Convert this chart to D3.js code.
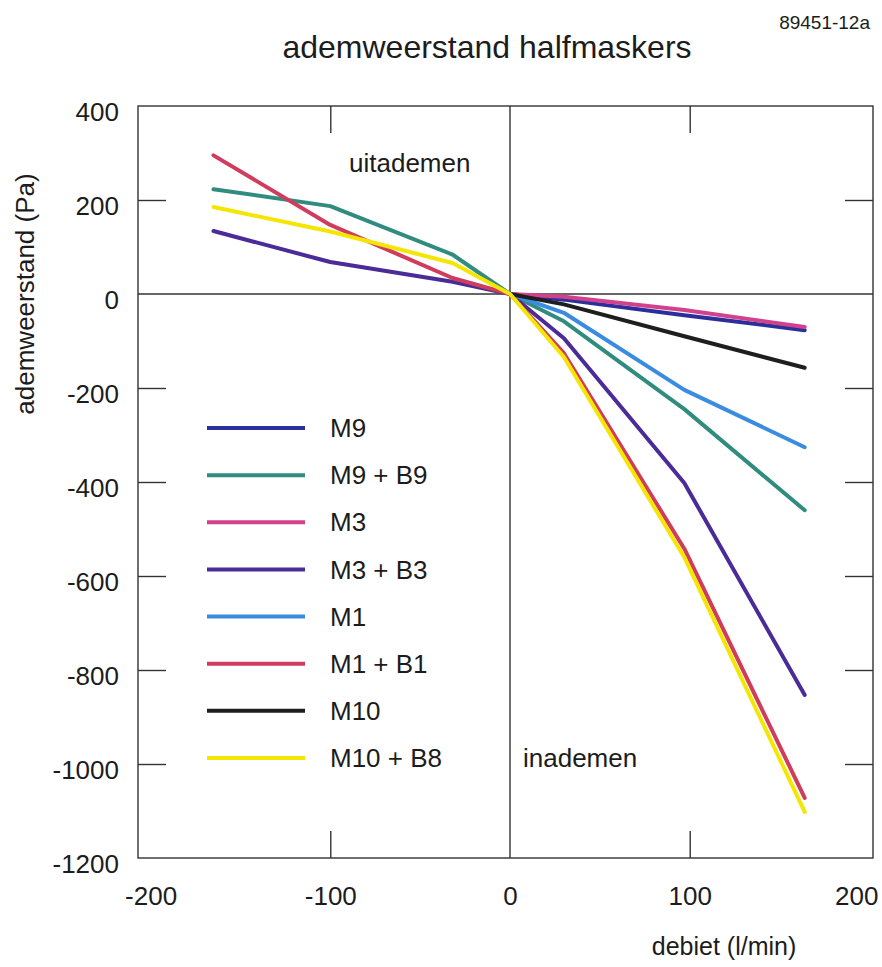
<!DOCTYPE html>
<html>
<head>
<meta charset="utf-8">
<script src="https://cdn.jsdelivr.net/npm/d3@7"></script>
<style>
  body { margin: 0; background: #ffffff; }
  text { font-family: "Liberation Sans", Arial, Helvetica, sans-serif; fill: #1c1c1c; }
</style>
</head>
<body>
<svg id="chart" width="882" height="967"></svg>
<script>
// Flow rates (l/min): negative = exhaling, positive = inhaling
const flows = [-165, -100, -32, 0, 30, 97, 164];

// Breathing resistance (Pa) per mask / mask + filter; null = not measured
const m9   = [null, null, null, 0, -12, -45, -77];
const m9b9 = [223, 187, 84, 0, -58, -245, -460];
const m3   = [null, null, null, 0, -6, -34, -70];
const m3b3 = [134, 68, 26, 0, -94, -402, -853];
const m1   = [null, null, null, 0, -40, -204, -326];
const m1b1 = [295, 147, 34, 0, -126, -542, -1072];
const m10  = [null, null, null, 0, -22, -90, -157];
const m10b8 = [185, 133, 66, 0, -134, -560, -1102];

const seriesNames = ["M9", "M9 + B9", "M3", "M3 + B3", "M1", "M1 + B1", "M10", "M10 + B8"];
const seriesValues = [m9, m9b9, m3, m3b3, m1, m1b1, m10, m10b8];
const seriesColors = ["#2b2f9c", "#2f8c7e", "#d2428c", "#4a2b98", "#3a8ce0", "#d03c5c", "#1e1e1e", "#f4e600"];

const xTickLabels = [-200, -100, 0, 100, 200];
const xTickMarks = [-100, 100];
const yTickLabels = [400, 200, 0, -200, -400, -600, -800, -1000, -1200];
const yTickMarks = [200, -200, -400, -600, -800, -1000];

const svg = d3.select("#chart");
const frameL = 138, frameR = 873, frameT = 106, frameB = 858;

const x = d3.scaleLinear().domain([-207, 202]).range([frameL, frameR]);
const y = d3.scaleLinear().domain([-1200, 400]).range([frameB, frameT]);

// plain hyphen for negative numbers
const fmt = d => String(d);

// Title and figure code
svg.append("text").attr("x", 487).attr("y", 58).attr("text-anchor", "middle")
  .style("font-size", "32px").text("ademweerstand halfmaskers");
svg.append("text").attr("x", 870).attr("y", 29).attr("text-anchor", "end")
  .style("font-size", "19px").text("89451-12a");

// Plot frame
svg.append("rect").attr("x", frameL).attr("y", frameT)
  .attr("width", frameR - frameL).attr("height", frameB - frameT)
  .attr("fill", "none").attr("stroke", "#333").attr("stroke-width", 1.4);

// Zero lines
svg.append("line").attr("x1", frameL).attr("x2", frameR).attr("y1", y(0)).attr("y2", y(0))
  .attr("stroke", "#333").attr("stroke-width", 1.4);
svg.append("line").attr("x1", x(0)).attr("x2", x(0)).attr("y1", frameT).attr("y2", frameB)
  .attr("stroke", "#333").attr("stroke-width", 1.4);

function styleAxis(g) {
  g.select(".domain").remove();
  g.selectAll(".tick line").attr("stroke", "#333").attr("stroke-width", 1.4);
  g.selectAll("text").style("font-size", "26px").attr("fill", "#1c1c1c");
}

// Inward tick marks on all four sides
svg.append("g").attr("transform", `translate(${frameL},0)`)
  .call(d3.axisLeft(y).tickValues(yTickMarks).tickSize(-28).tickFormat(""))
  .call(styleAxis);
svg.append("g").attr("transform", `translate(${frameR},0)`)
  .call(d3.axisRight(y).tickValues(yTickMarks).tickSize(-28).tickFormat(""))
  .call(styleAxis);
svg.append("g").attr("transform", `translate(0,${frameT})`)
  .call(d3.axisTop(x).tickValues(xTickMarks).tickSize(-27).tickFormat(""))
  .call(styleAxis);
svg.append("g").attr("transform", `translate(0,${frameB})`)
  .call(d3.axisBottom(x).tickValues(xTickMarks).tickSize(-27).tickFormat(""))
  .call(styleAxis);

// Tick labels
svg.append("g").attr("transform", `translate(${frameL},0)`)
  .call(d3.axisLeft(y).tickValues(yTickLabels).tickSize(0).tickPadding(19).tickFormat(fmt))
  .call(styleAxis)
  .selectAll("text").attr("dy", "0.55em");

const xLabels = svg.append("g").attr("transform", `translate(0,${frameB})`)
  .call(d3.axisBottom(x).tickValues(xTickLabels).tickSize(0).tickPadding(29).tickFormat(fmt))
  .call(styleAxis);
// keep the outermost label inside the canvas
xLabels.selectAll(".tick").each(function(d) {
  const t = d3.select(this).select("text");
  const w = t.node().getComputedTextLength();
  const cx = x(d);
  const maxX = frameR + 5 - w / 2;
  if (cx > maxX) t.attr("x", maxX - cx);
});

// Axis titles
svg.append("text").attr("transform", "translate(34,294) rotate(-90)")
  .attr("text-anchor", "middle").style("font-size", "26px").text("ademweerstand (Pa)");
svg.append("text").attr("x", 724).attr("y", 955).attr("text-anchor", "middle")
  .style("font-size", "25px").text("debiet (l/min)");

// Region annotations
svg.append("text").attr("x", 349).attr("y", 172).style("font-size", "26px").text("uitademen");
svg.append("text").attr("x", 523).attr("y", 767).style("font-size", "26px").text("inademen");

// Series lines
const line = d3.line()
  .defined(d => d[1] !== null)
  .x(d => x(d[0]))
  .y(d => y(d[1]));

seriesValues.forEach((vals, i) => {
  const pts = flows.map((f, j) => [f, vals[j]]);
  svg.append("path")
    .attr("d", line(pts))
    .attr("fill", "none")
    .attr("stroke", seriesColors[i])
    .attr("stroke-width", 4)
    .attr("stroke-linejoin", "round")
    .attr("stroke-linecap", "round");
});

// Legend
const legendTop = 428, legendStep = 47.14;
seriesNames.forEach((name, i) => {
  const ly = legendTop + i * legendStep;
  svg.append("line").attr("x1", 207).attr("x2", 305).attr("y1", ly).attr("y2", ly)
    .attr("stroke", seriesColors[i]).attr("stroke-width", 4);
  svg.append("text").attr("x", 330).attr("y", ly).attr("dy", "0.35em")
    .style("font-size", "26px").text(name);
});
</script>
</body>
</html>
